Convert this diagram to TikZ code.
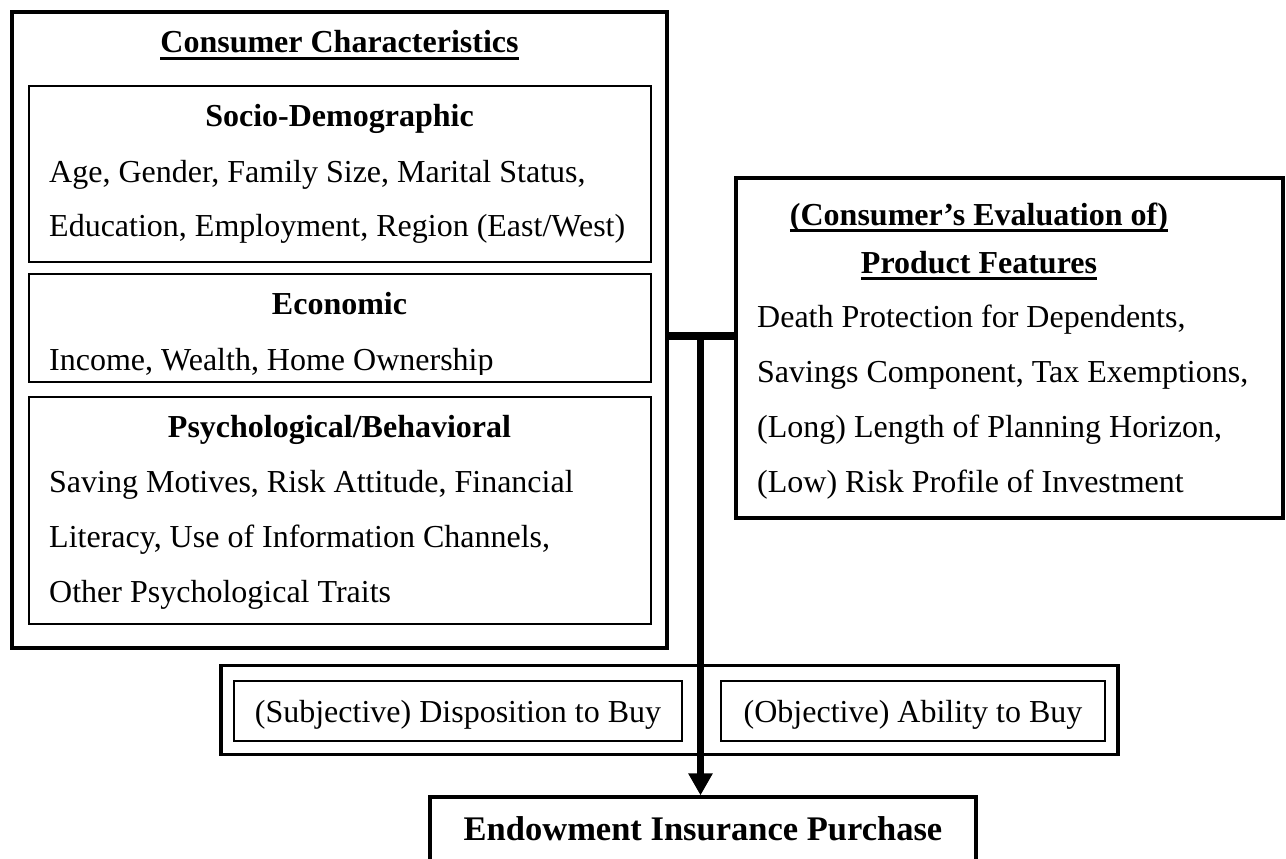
\documentclass[tikz,border=0pt]{standalone}
\usepackage{fontspec}
\setmainfont{Liberation Serif}
\usetikzlibrary{arrows.meta}
\begin{document}
\begin{tikzpicture}[x=1pt,y=-1pt,
  thickbox/.style={draw,line width=3.2pt,inner sep=0pt},
  thinbox/.style={draw,line width=2pt,inner sep=0pt},
  txt/.style={inner sep=0pt,font=\fontsize{32}{40}\selectfont},
  head/.style={inner sep=0pt,font=\fontsize{32}{40}\selectfont\bfseries},
  ul/.style={line width=2.6pt},
  bar/.style={line width=7.5pt}]
\useasboundingbox (0,0) rectangle (1286,859);
\clip (0,0) rectangle (1286,859);
% Consumer characteristics frame
\node[thickbox,minimum width=655pt,minimum height=636pt] (cc) at (339.5,330) {};
\node[head,anchor=base] (cct) at (339.5,53) {Consumer Characteristics};
\draw[ul] ([yshift=-5.5pt]cct.base west) -- ([yshift=-5.5pt]cct.base east);
% Socio-demographic
\node[thinbox,minimum width=622pt,minimum height=176pt] (sd) at (339.5,174) {};
\node[head,anchor=base] (sdt) at (339.5,126) {Socio-Demographic};
\node[txt,anchor=base west] (sd1) at (49,182) {Age, Gender, Family Size, Marital Status,};
\node[txt,anchor=base west] (sd2) at (49,236) {Education, Employment, Region (East/West)};
% Economic
\node[thinbox,minimum width=622pt,minimum height=108pt] (ec) at (339.5,328) {};
\node[head,anchor=base] (ect) at (339.5,314) {Economic};
\begin{scope}
\clip (29,276) rectangle (650,374);
\node[txt,anchor=base west] (ec1) at (49,370) {Income, Wealth, Home Ownership};
\end{scope}
% Psychological
\node[thinbox,minimum width=622pt,minimum height=227pt] (ps) at (339.5,510.5) {};
\node[head,anchor=base] (pst) at (339.5,437) {Psychological/Behavioral};
\node[txt,anchor=base west] (ps1) at (49,492) {Saving Motives, Risk Attitude, Financial};
\node[txt,anchor=base west] (ps2) at (49,547) {Literacy, Use of Information Channels,};
\node[txt,anchor=base west] (ps3) at (49,602) {Other Psychological Traits};
% Product features
\node[thickbox,minimum width=547pt,minimum height=340pt] (pf) at (1009.5,348) {};
\node[head,anchor=base] (pft1) at (979,225) {(Consumer’s Evaluation of)};
\draw[ul] ([yshift=-5.5pt]pft1.base west) -- ([yshift=-5.5pt]pft1.base east);
\node[head,anchor=base] (pft2) at (979,273) {Product Features};
\draw[ul] ([yshift=-5.5pt]pft2.base west) -- ([yshift=-5.5pt]pft2.base east);
\node[txt,anchor=base west] (pf1) at (757,327) {Death Protection for Dependents,};
\node[txt,anchor=base west] (pf2) at (757,382) {Savings Component, Tax Exemptions,};
\node[txt,anchor=base west] (pf3) at (757,437) {(Long) Length of Planning Horizon,};
\node[txt,anchor=base west] (pf4) at (757,492) {(Low) Risk Profile of Investment};
% Disposition / ability
\node[thickbox,minimum width=897pt,minimum height=89pt] (da) at (669.5,710) {};
\node[thinbox,minimum width=448pt,minimum height=60pt] (db) at (458,710.5) {};
\node[txt,anchor=base] at (458,722) {(Subjective) Disposition to Buy};
\node[thinbox,minimum width=384pt,minimum height=60pt] (ab) at (913,710.5) {};
\node[txt,anchor=base] at (913,722) {(Objective) Ability to Buy};
% Endowment insurance purchase
\node[thickbox,minimum width=546pt,minimum height=100pt] (ei) at (703,847) {};
\node[inner sep=0pt,font=\fontsize{34.5}{40}\selectfont\bfseries,anchor=base] (eit) at (703,840) {Endowment Insurance Purchase};
% connectors
\coordinate (j) at (700.5,336);
\draw[bar] (cc.east |- j) -- (pf.west |- j);
\draw[bar,-{Triangle[length=22pt,width=23pt]}] ([yshift=3.75pt]j) -- (j |- ei.north);
\end{tikzpicture}
\end{document}
